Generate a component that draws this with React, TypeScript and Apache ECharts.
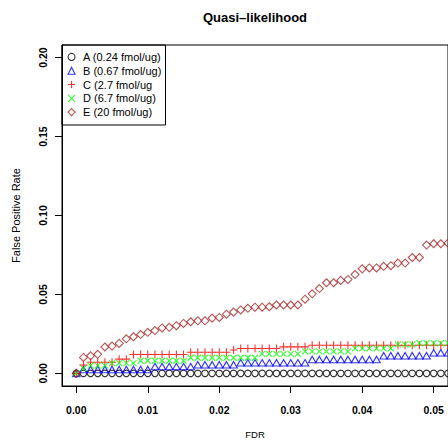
import React, { useEffect, useRef } from "react";
import * as echarts from "echarts";

const fdr = [
  0, 0.001, 0.002, 0.003, 0.004, 0.005, 0.006, 0.007, 0.008, 0.009,
  0.01, 0.011, 0.012, 0.013, 0.014, 0.015, 0.016, 0.017, 0.018, 0.019,
  0.02, 0.021, 0.022, 0.023, 0.024, 0.025, 0.026, 0.027, 0.028, 0.029,
  0.03, 0.031, 0.032, 0.033, 0.034, 0.035, 0.036, 0.037, 0.038, 0.039,
  0.04, 0.041, 0.042, 0.043, 0.044, 0.045, 0.046, 0.047, 0.048, 0.049,
  0.05, 0.051, 0.052,
];

const seriesNames = [
  "A (0.24 fmol/ug)",
  "B (0.67 fmol/ug)",
  "C (2.7 fmol/ug",
  "D (6.7 fmol/ug)",
  "E (20 fmol/ug)",
];

const valuesA = [
  0, 0, 0, 0, 0, 0, 0, 0, 0, 0,
  0, 0, 0, 0, 0, 0, 0, 0, 0, 0,
  0, 0, 0, 0, 0, 0, 0, 0, 0, 0,
  0, 0, 0, 0, 0, 0, 0, 0, 0, 0,
  0, 0, 0, 0, 0, 0, 0, 0, 0, 0,
  0, 0, 0,
];

const valuesB = [
  0, 0.0025, 0.0025, 0.0025, 0.0025, 0.0025, 0.0025, 0.0025, 0.0025, 0.0025,
  0.0025, 0.0043, 0.0043, 0.0043, 0.0043, 0.0043, 0.0043, 0.0055, 0.0055, 0.0055,
  0.0055, 0.0055, 0.0055, 0.0067, 0.0067, 0.0067, 0.0067, 0.0067, 0.0067, 0.0067,
  0.0067, 0.0067, 0.0067, 0.0088, 0.0088, 0.0088, 0.0088, 0.0088, 0.0088, 0.0088,
  0.0088, 0.0088, 0.0088, 0.0112, 0.0112, 0.0112, 0.0112, 0.0112, 0.0112, 0.0112,
  0.0131, 0.0131, 0.0131,
];

const valuesC = [
  0, 0.0052, 0.007, 0.007, 0.007, 0.007, 0.009, 0.009, 0.012, 0.012,
  0.012, 0.012, 0.012, 0.012, 0.012, 0.012, 0.0134, 0.0134, 0.0134, 0.0134,
  0.0134, 0.0134, 0.0148, 0.0158, 0.0158, 0.0158, 0.0158, 0.0158, 0.0158, 0.0168,
  0.0168, 0.0168, 0.0168, 0.0178, 0.0178, 0.0178, 0.0178, 0.0178, 0.0178, 0.0178,
  0.0178, 0.0178, 0.0178, 0.0178, 0.0178, 0.0178, 0.0178, 0.0178, 0.0178, 0.0178,
  0.0178, 0.0178, 0.0178,
];

const valuesD = [
  0, 0.0033, 0.0049, 0.0049, 0.0049, 0.0065, 0.0065, 0.0065, 0.0065, 0.008,
  0.008, 0.008, 0.008, 0.008, 0.008, 0.008, 0.0099, 0.0099, 0.0099, 0.0099,
  0.0099, 0.0099, 0.0099, 0.0099, 0.0099, 0.0099, 0.0124, 0.0124, 0.0124, 0.0124,
  0.0124, 0.0124, 0.014, 0.014, 0.014, 0.014, 0.014, 0.014, 0.014, 0.0159,
  0.0159, 0.0159, 0.0159, 0.0159, 0.0159, 0.0184, 0.0184, 0.0184, 0.0192, 0.0192,
  0.0192, 0.0192, 0.0192,
];

const valuesE = [
  0, 0.0101, 0.0111, 0.0121, 0.0167, 0.0173, 0.019, 0.0219, 0.0232, 0.0246,
  0.026, 0.0271, 0.0288, 0.0292, 0.0302, 0.0316, 0.0327, 0.0333, 0.0333, 0.035,
  0.0354, 0.0375, 0.0388, 0.0402, 0.0412, 0.0419, 0.0419, 0.0422, 0.0433, 0.0433,
  0.0433, 0.0433, 0.047, 0.0504, 0.0537, 0.0574, 0.0574, 0.0589, 0.0595, 0.0626,
  0.0662, 0.0668, 0.0668, 0.0678, 0.0682, 0.0699, 0.0699, 0.0734, 0.0734, 0.0813,
  0.0821, 0.0821, 0.0825,
];

const xTicks = [0, 0.01, 0.02, 0.03, 0.04, 0.05];
const yTicks = [0, 0.05, 0.1, 0.15, 0.2];

const FONT = "'Liberation Sans', Arial, Helvetica, sans-serif";

export default function App() {
  const ref = useRef<HTMLDivElement>(null);

  useEffect(() => {
    const chart = echarts.init(ref.current as HTMLDivElement, null, { renderer: "svg" });
    const pair = (vals: number[]) => fdr.map((x, i) => [x, vals[i]]);
    const mk = (name: string, vals: number[], symbol: string, size: any, color: string) => ({
      type: "scatter",
      name,
      data: pair(vals),
      symbol,
      symbolSize: size,
      itemStyle: { color: "rgba(0,0,0,0)", borderColor: color, borderWidth: 1.1 },
      emphasis: { disabled: true },
      silent: true,
      clip: true,
    });

    chart.setOption({
      animation: false,
      backgroundColor: "#fff",
      title: {
        text: "Quasi\u2013likelihood",
        left: 203,
        top: 11,
        padding: 0,
        textStyle: { fontFamily: FONT, fontSize: 13, fontWeight: "bold", color: "#000" },
      },
      grid: {
        left: 62,
        top: 45,
        right: -2,
        bottom: 51.5,
        show: true,
        borderColor: "#000",
        borderWidth: 1,
        backgroundColor: "transparent",
        containLabel: false,
      },
      legend: {
        orient: "vertical",
        left: 67.5,
        top: 50,
        padding: 0,
        itemGap: 0,
        itemWidth: 7,
        itemHeight: 7,
        selectedMode: false,
        data: seriesNames,
        itemStyle: { borderWidth: 1.1 },
        textStyle: {
          fontFamily: FONT,
          fontSize: 11,
          lineHeight: 13.8,
          color: "#000",
          padding: [0, 0, 0, 3],
        },
      },
      graphic: [
        {
          type: "rect",
          silent: true,
          shape: { x: 62, y: 45, width: 103.5, height: 80 },
          style: { fill: "none", stroke: "#000", lineWidth: 1 },
        },
      ],
      xAxis: {
        type: "value",
        min: -0.002,
        max: 0.052,
        name: "FDR",
        nameLocation: "middle",
        nameGap: 43,
        nameTextStyle: { fontFamily: FONT, fontSize: 9.5, color: "#000" },
        axisLine: { show: true, onZero: false, lineStyle: { color: "#000", width: 1 } },
        axisTick: {
          show: true,
          inside: false,
          length: 7,
          customValues: xTicks,
          lineStyle: { color: "#000", width: 1 },
        },
        axisLabel: {
          customValues: xTicks,
          margin: 18,
          formatter: (v: number) => v.toFixed(2),
          fontFamily: FONT,
          fontSize: 10.5,
          fontWeight: "bold",
          color: "#000",
        },
        splitLine: { show: false },
      },
      yAxis: {
        type: "value",
        min: -0.008,
        max: 0.208,
        name: "False Positive Rate",
        nameLocation: "middle",
        nameGap: 41,
        nameTextStyle: { fontFamily: FONT, fontSize: 11, color: "#000" },
        axisLine: { show: true, onZero: false, lineStyle: { color: "#000", width: 1 } },
        axisTick: {
          show: true,
          inside: false,
          length: 7,
          customValues: yTicks,
          lineStyle: { color: "#000", width: 1 },
        },
        axisLabel: {
          customValues: yTicks,
          rotate: 90,
          margin: 14,
          formatter: (v: number) => v.toFixed(2),
          fontFamily: FONT,
          fontSize: 10.5,
          fontWeight: "bold",
          color: "#000",
        },
        splitLine: { show: false },
      },
      series: [
        mk(seriesNames[0], valuesA, "circle", 6.5, "#000000"),
        mk(seriesNames[1], valuesB, "triangle", [7.5, 6.5], "#0000FF"),
        mk(seriesNames[2], valuesC, "path://M0,5L10,5M5,0L5,10", 8, "#FF0000"),
        mk(seriesNames[3], valuesD, "path://M0,0L10,10M0,10L10,0", 6, "#00FF00"),
        mk(seriesNames[4], valuesE, "diamond", [8, 8], "#A52A2A"),
      ],
    });

    return () => chart.dispose();
  }, []);

  return (
    <div
      ref={ref}
      style={{ position: "absolute", left: 0, top: 0, width: 448, height: 444 }}
    />
  );
}
